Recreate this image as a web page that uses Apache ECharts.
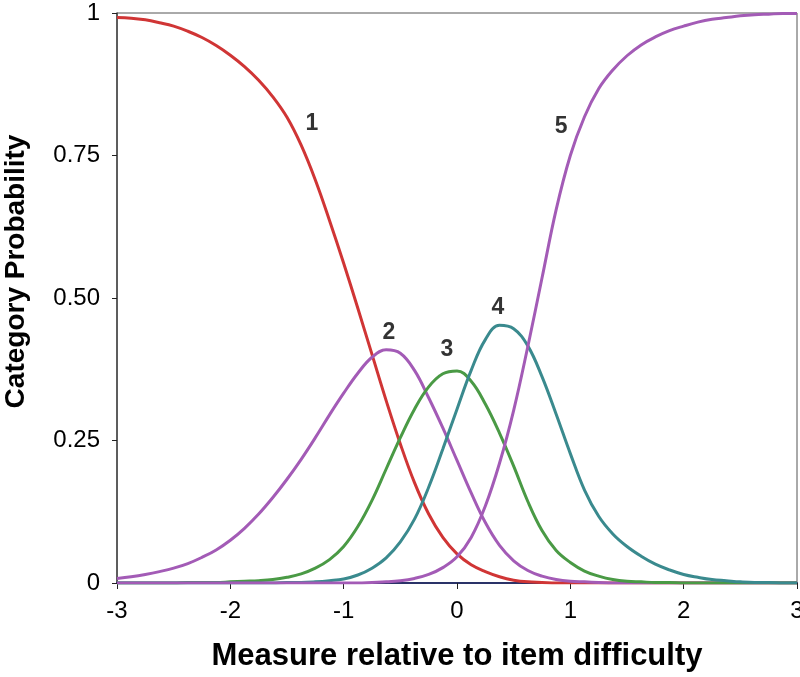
<!DOCTYPE html>
<html>
<head>
<meta charset="utf-8">
<script src="https://cdn.jsdelivr.net/npm/echarts@6/dist/echarts.min.js"></script>
<style>html,body{margin:0;padding:0;background:#fff;}#c{width:800px;height:677px;}</style>
</head>
<body>
<div id="c"></div>
<script>
var xs = [-3,-2.875,-2.75,-2.625,-2.5,-2.375,-2.25,-2.125,-2,-1.875,-1.75,-1.625,-1.5,-1.375,-1.25,-1.125,-1,-0.875,-0.75,-0.625,-0.5,-0.375,-0.25,-0.125,0,0.125,0.25,0.375,0.5,0.625,0.75,0.875,1,1.125,1.25,1.375,1.5,1.625,1.75,1.875,2,2.125,2.25,2.375,2.5,2.625,2.75,2.875,3];
var cat1 = [0.992,0.991,0.988,0.983,0.977,0.968,0.957,0.943,0.926,0.906,0.882,0.853,0.817,0.768,0.707,0.636,0.561,0.482,0.401,0.320,0.244,0.176,0.121,0.080,0.051,0.032,0.020,0.011,0.005,0.002,0.001,0,0,0,0,0,0,0,0,0,0,0,0,0,0,0,0,0,0];
var cat2 = [0.008,0.011,0.015,0.020,0.026,0.034,0.045,0.058,0.075,0.096,0.121,0.150,0.182,0.217,0.255,0.295,0.333,0.368,0.396,0.409,0.403,0.373,0.325,0.272,0.215,0.158,0.106,0.066,0.039,0.022,0.012,0.006,0.003,0.002,0.001,0,0,0,0,0,0,0,0,0,0,0,0,0,0];
var cat3 = [0,0,0,0,0,0.001,0.001,0.001,0.002,0.003,0.004,0.006,0.010,0.016,0.026,0.041,0.064,0.099,0.145,0.200,0.255,0.305,0.344,0.367,0.372,0.354,0.314,0.263,0.205,0.143,0.092,0.057,0.036,0.021,0.012,0.006,0.003,0.002,0.001,0.001,0,0,0,0,0,0,0,0,0];
var cat4 = [0,0,0,0,0,0,0,0,0,0,0,0,0.001,0.001,0.002,0.004,0.007,0.014,0.026,0.044,0.072,0.112,0.168,0.235,0.305,0.373,0.427,0.452,0.446,0.416,0.362,0.296,0.227,0.163,0.117,0.086,0.064,0.047,0.033,0.023,0.015,0.010,0.006,0.004,0.002,0.001,0.001,0,0];
var cat5 = [0,0,0,0,0,0,0,0,0,0,0,0,0,0,0,0,0,0,0.001,0.002,0.004,0.008,0.015,0.027,0.046,0.080,0.135,0.210,0.303,0.415,0.535,0.655,0.750,0.818,0.867,0.900,0.925,0.944,0.958,0.969,0.977,0.984,0.989,0.992,0.995,0.997,0.998,0.999,0.999];
var labelText = ['1','2','3','4','5'];
var labelX = [-1.28,-0.60,-0.09,0.36,0.92];
var labelY = [0.805,0.44,0.41,0.483,0.8];
var yTicks = {0:'0',0.25:'0.25',0.5:'0.50',0.75:'0.75',1:'1'};
var FONT = 'Liberation Sans, Arial, sans-serif';

function pts(v){ return xs.map(function(x,i){ return [x, v[i]]; }); }
var colors = ['#d03535','#a35bb6','#4a9a45','#3a8a8e','#a35bb6'];
var cats = [cat1,cat2,cat3,cat4,cat5];
var series = cats.map(function(v,i){
  return {type:'line', data:pts(v), smooth:0.4, showSymbol:false, symbol:'none',
    lineStyle:{color:colors[i], width:3}, z:2+i, silent:true};
});
series.push({type:'scatter', symbolSize:0, z:10, silent:true,
  data: labelText.map(function(t,i){ return {value:[labelX[i], labelY[i]], name:t}; }),
  label:{show:true, position:'inside', formatter:'{b}', color:'#000', fontWeight:'bold',
    fontSize:23, fontFamily:FONT, textBorderWidth:0}});

var chart = echarts.init(document.getElementById('c'));
chart.setOption({
  animation:false,
  backgroundColor:'#fff',
  grid:{left:117, right:3, top:13, bottom:94, show:true, borderColor:'#555', borderWidth:1,
    backgroundColor:'transparent', containLabel:false, outerBoundsMode:'none'},
  graphic:[{type:'text', rotation:Math.PI/2, silent:true, x:16, y:271.5,
    style:{text:'Category Probability', font:'bold 28px Liberation Sans, Arial, sans-serif', fill:'#000',
      textAlign:'center', textVerticalAlign:'middle'}}],
  xAxis:{type:'value', min:-3, max:3, interval:1,
    name:'Measure relative to item difficulty', nameLocation:'middle', nameGap:58,
    nameTextStyle:{fontSize:31, fontWeight:'bold', color:'#000', fontFamily:FONT},
    axisLine:{show:true, onZero:false, lineStyle:{color:'#2a3368', width:2}},
    axisTick:{show:true, length:6, lineStyle:{color:'#222'}},
    axisLabel:{fontSize:24, color:'#000', margin:16, fontFamily:FONT},
    splitLine:{show:false}},
  yAxis:{type:'value', min:0, max:1, interval:0.25,
    axisLine:{show:true, onZero:false, lineStyle:{color:'#444', width:1.5}},
    axisTick:{show:true, length:5, lineStyle:{color:'#222'}},
    axisLabel:{fontSize:24, color:'#000', margin:17, fontFamily:FONT,
      formatter:function(v){ return yTicks[v] !== undefined ? yTicks[v] : ''; }},
    splitLine:{show:false}},
  series:series
});
</script>
</body>
</html>
